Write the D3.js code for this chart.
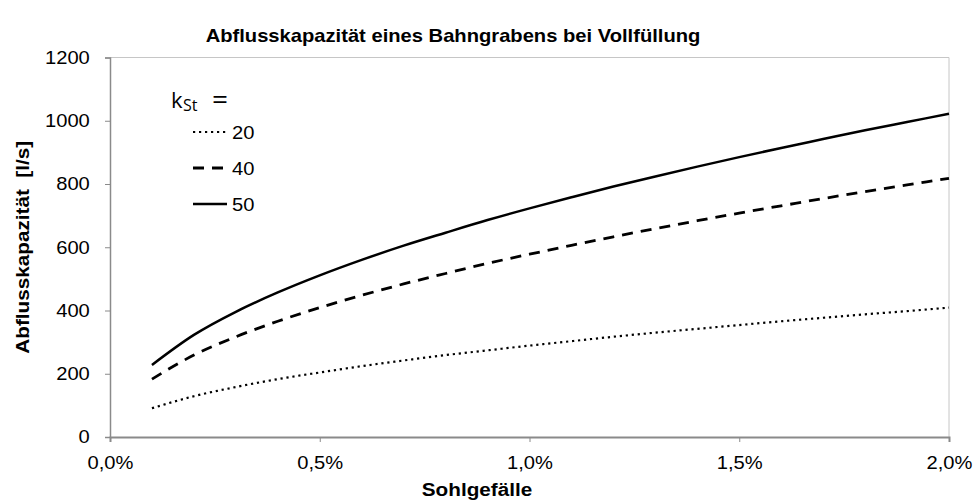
<!DOCTYPE html>
<html>
<head>
<meta charset="utf-8">
<script src="https://cdn.jsdelivr.net/npm/d3@7"></script>
<style>
  body { margin: 0; background: #fff; }
  text { font-family: "Liberation Sans", Arial, sans-serif; fill: #000; }
</style>
</head>
<body>
<svg id="chart" width="976" height="501"></svg>
<script>
// Sohlgefälle in %
var slope = [0.1, 0.2, 0.3, 0.4, 0.5, 0.6, 0.7, 0.8, 0.9, 1.0,
             1.1, 1.2, 1.3, 1.4, 1.5, 1.6, 1.7, 1.8, 1.9, 2.0];
// Abflusskapazität [l/s] per kSt
var q20 = [91, 129, 158, 183, 204, 224, 242, 259, 274, 289,
           303, 317, 330, 342, 354, 366, 377, 388, 398, 409];
var q40 = [183, 259, 317, 366, 409, 448, 484, 517, 549, 578,
           606, 633, 659, 684, 708, 731, 754, 776, 797, 818];
var q50 = [228, 323, 396, 457, 511, 560, 605, 646, 686, 723,
           758, 792, 824, 855, 885, 914, 942, 970, 996, 1022];
var kLabels = ["20", "40", "50"];
var xTicks = [0, 0.5, 1.0, 1.5, 2.0];
var yTicks = [0, 200, 400, 600, 800, 1000, 1200];

var series = [
  {name: kLabels[0], values: q20, dash: "2.2,3.8", width: 2.2},
  {name: kLabels[1], values: q40, dash: "11,8", width: 2.8},
  {name: kLabels[2], values: q50, dash: null, width: 2.5}
];

// text in the original is a bit wider than Liberation Sans
var SX = 1.12;

var margin = {top: 57.5, right: 27, bottom: 64, left: 110};
var width = 976 - margin.left - margin.right,
    height = 501 - margin.top - margin.bottom;

var svg = d3.select("#chart");

var x = d3.scaleLinear().domain([0, 2]).range([0, width]);
var y = d3.scaleLinear().domain([0, 1200]).range([height, 0]);

var g = svg.append("g")
    .attr("transform", "translate(" + margin.left + "," + margin.top + ")");

// plot border (top/right)
g.append("path")
    .attr("d", "M0,0H" + width + "V" + height)
    .attr("fill", "none")
    .attr("stroke", "#c6c6c6")
    .attr("stroke-width", 1);

var fmtX = function(d) { return d.toFixed(1).replace(".", ",") + "%"; };

// x axis
var xAxis = g.append("g")
    .attr("transform", "translate(0," + height + ")")
    .call(d3.axisBottom(x).tickValues(xTicks).tickFormat(fmtX).tickSize(5).tickPadding(14));
xAxis.select(".domain").attr("stroke", "#8a8a8a").attr("stroke-width", 2);
xAxis.selectAll(".tick line").attr("stroke", "#8a8a8a");
xAxis.selectAll("text").style("font-size", "18px").attr("dy", "0.71em")
    .attr("transform", "scale(" + SX + ",1)");

// y axis
var yAxis = g.append("g")
    .call(d3.axisLeft(y).tickValues(yTicks).tickFormat(d3.format("d")).tickSize(5).tickPadding(13));
yAxis.select(".domain").attr("stroke", "#8a8a8a").attr("stroke-width", 1.5);
yAxis.selectAll(".tick line").attr("stroke", "#8a8a8a");
yAxis.selectAll("text").style("font-size", "18px")
    .attr("transform", "scale(" + SX + ",1)");

// lines
var line = d3.line()
    .x(function(d, i) { return x(slope[i]); })
    .y(function(d) { return y(d); })
    .curve(d3.curveMonotoneX);

series.forEach(function(s) {
  g.append("path")
      .datum(s.values)
      .attr("fill", "none")
      .attr("stroke", "#000")
      .attr("stroke-width", s.width)
      .attr("stroke-dasharray", s.dash)
      .attr("d", line);
});

// title
svg.append("text")
    .attr("transform", "translate(453,41.5) scale(" + SX + ",1)")
    .attr("text-anchor", "middle")
    .style("font-size", "18px").style("font-weight", "bold")
    .text("Abflusskapazität eines Bahngrabens bei Vollfüllung");

// axis titles
svg.append("text")
    .attr("transform", "translate(477,496) scale(" + SX + ",1)")
    .attr("text-anchor", "middle")
    .style("font-size", "18.5px").style("font-weight", "bold")
    .text("Sohlgefälle");

svg.append("text")
    .attr("transform", "translate(28.5," + (margin.top + height / 2) + ") rotate(-90) scale(" + SX + ",1)")
    .attr("text-anchor", "middle")
    .style("font-size", "18.5px").style("font-weight", "bold")
    .attr("xml:space", "preserve")
    .text("Abflusskapazität  [l/s]");

// legend
var lg = svg.append("g");
var kt = lg.append("text")
    .attr("y", 108)
    .style("font-family", "'Open Sans', sans-serif")
    .style("font-size", "22px");
kt.append("tspan").attr("x", 171).text("k");
kt.append("tspan").attr("dx", 0.5).attr("dy", 3).style("font-size", "16px").text("St");
kt.append("tspan").attr("x", 212).attr("dy", -2).style("font-size", "28px").text("=");

var legY = [132, 168, 204];
series.forEach(function(s, i) {
  lg.append("line")
      .attr("x1", 193).attr("x2", 227)
      .attr("y1", legY[i]).attr("y2", legY[i])
      .attr("stroke", "#000")
      .attr("stroke-width", s.width)
      .attr("stroke-dasharray", s.dash);
  lg.append("text")
      .attr("transform", "translate(232," + (legY[i] + 7) + ") scale(" + SX + ",1)")
      .style("font-size", "18px")
      .text(s.name);
});
</script>
</body>
</html>
